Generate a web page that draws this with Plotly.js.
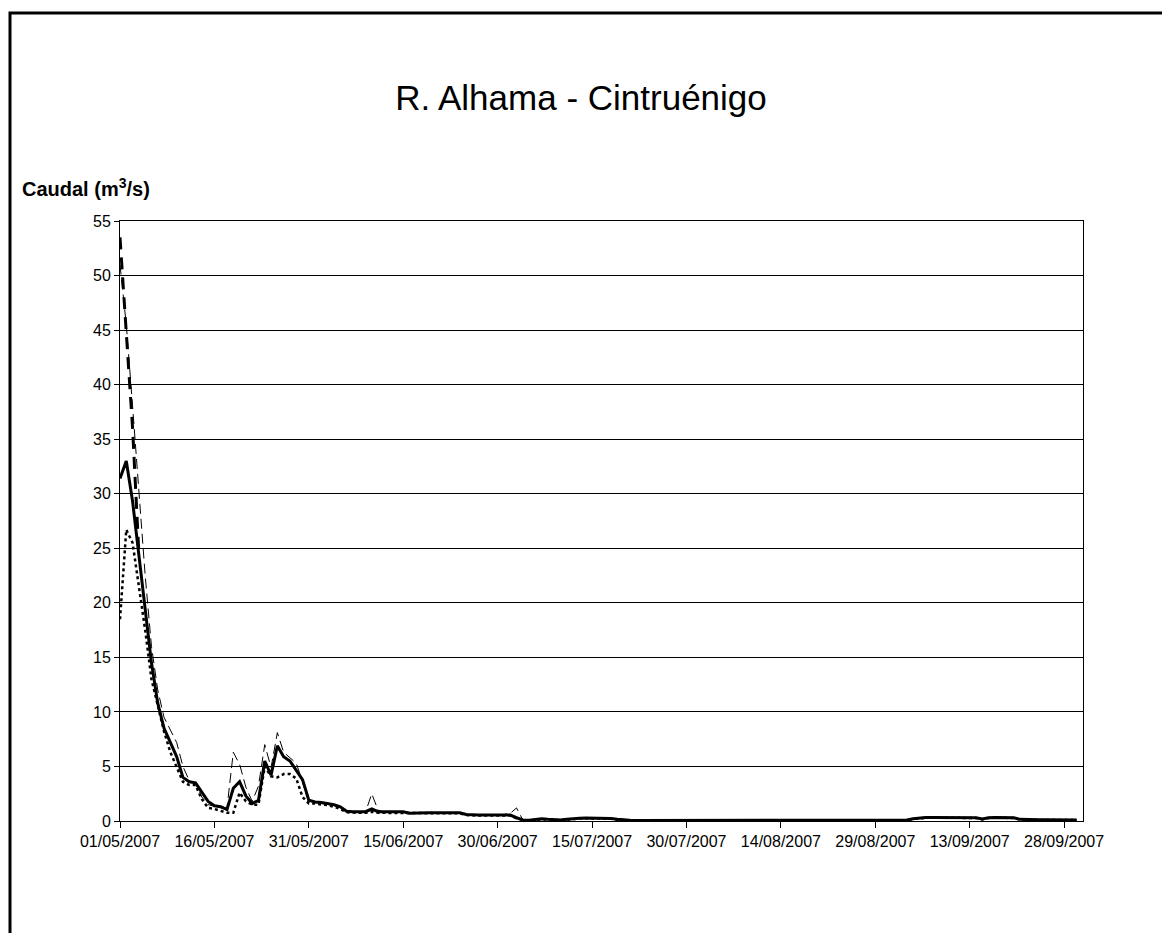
<!DOCTYPE html>
<html>
<head>
<meta charset="utf-8">
<script src="https://cdn.plot.ly/plotly-3.0.1.min.js"></script>
<style>
html,body{margin:0;padding:0;background:#fff;}
#chart{width:1162px;height:933px;}
</style>
</head>
<body>
<div id="chart"></div>
<script>
// ---- data (daily values from 01/05/2007) ----
const startDate = '2007-05-01';

const solidSeries = [
31.4,33.0,29.3,24.5,19.6,14.5,10.8,8.5,7.2,5.9,
4.0,3.6,3.5,2.7,1.8,1.4,1.3,1.05,3.0,3.6,
2.3,1.6,1.9,5.5,4.2,6.9,5.9,5.5,4.6,3.8,
1.9,1.75,1.7,1.6,1.5,1.3,0.9,0.85,0.85,0.85,
1.1,0.85,0.85,0.85,0.85,0.85,0.72,0.75,0.75,0.75,
0.75,0.75,0.75,0.75,0.75,0.6,0.55,0.55,0.55,0.55,
0.55,0.55,0.55,0.3,0.1,0.08,0.12,0.2,0.15,0.1,
0.1,0.15,0.22,0.25,0.28,0.28,0.28,0.25,0.22,0.15,
0.08,0.06,0.05,0.05,0.05,0.05,0.05,0.05,0.05,0.05,
0.05,0.05,0.05,0.05,0.05,0.05,0.05,0.05,0.05,0.05,
0.05,0.05,0.05,0.05,0.05,0.05,0.05,0.05,0.05,0.05,
0.05,0.05,0.05,0.05,0.05,0.05,0.05,0.05,0.05,0.05,
0.05,0.05,0.05,0.05,0.06,0.1,0.2,0.28,0.32,0.32,
0.32,0.32,0.32,0.32,0.32,0.32,0.3,0.18,0.3,0.33,
0.33,0.33,0.3,0.15,0.12,0.12,0.12,0.12,0.12,0.12,
0.12,0.12,0.1
];

const dashedSeries = [
51,45.5,38,30.5,22.5,16,12,9.5,8.3,7.2,
5.0,3.7,3.5,2.2,1.5,1.35,1.3,1.2,6.3,5.2,
3.1,1.8,3.2,7.0,4.9,8.1,6.3,5.8,5.3,3.6,
1.7,1.7,1.6,1.5,1.4,1.2,0.85,0.8,0.8,0.8,
2.5,1.0,0.8,0.8,0.8,0.8,0.72,0.72,0.72,0.72,
0.72,0.72,0.72,0.72,0.72,0.58,0.55,0.55,0.55,0.55,
0.55,0.6,0.7,1.2,0.1,0.08,0.12,0.22,0.15,0.1,
0.1,0.15,0.25,0.28,0.3,0.3,0.3,0.28,0.25,0.15,
0.08,0.06,0.05,0.05,0.05,0.05,0.05,0.05,0.05,0.05,
0.05,0.05,0.05,0.05,0.05,0.05,0.05,0.05,0.05,0.05,
0.05,0.05,0.05,0.05,0.05,0.05,0.05,0.05,0.05,0.05,
0.05,0.05,0.05,0.05,0.05,0.05,0.05,0.05,0.05,0.05,
0.05,0.05,0.05,0.05,0.06,0.1,0.22,0.3,0.34,0.34,
0.34,0.34,0.34,0.34,0.34,0.34,0.32,0.18,0.32,0.35,
0.35,0.35,0.32,0.15,0.12,0.12,0.12,0.12,0.12,0.12,
0.12,0.12,0.1
];

const dottedSeries = [
18.5,26.7,25.5,21.5,17.5,13.0,10.5,8.2,6.3,5.0,
3.6,3.3,3.3,2.0,1.2,1.1,0.9,0.75,0.75,2.6,
1.8,1.5,1.5,5.0,4.1,4.0,4.3,4.3,3.9,2.2,
1.6,1.6,1.5,1.45,1.3,1.1,0.8,0.75,0.75,0.75,
0.85,0.75,0.75,0.75,0.75,0.75,0.7,0.7,0.7,0.7,
0.7,0.7,0.7,0.7,0.7,0.55,0.5,0.5,0.5,0.5,
0.5,0.5,0.5,0.25,0.08,0.06,0.1,0.15,0.12,0.08,
0.08,0.12,0.2,0.22,0.25,0.25,0.25,0.22,0.2,0.12,
0.06,0.05,0.04,0.04,0.04,0.04,0.04,0.04,0.04,0.04,
0.04,0.04,0.04,0.04,0.04,0.04,0.04,0.04,0.04,0.04,
0.04,0.04,0.04,0.04,0.04,0.04,0.04,0.04,0.04,0.04,
0.04,0.04,0.04,0.04,0.04,0.04,0.04,0.04,0.04,0.04,
0.04,0.04,0.04,0.04,0.05,0.08,0.18,0.26,0.3,0.3,
0.3,0.3,0.3,0.3,0.3,0.3,0.28,0.15,0.28,0.3,
0.3,0.3,0.28,0.13,0.1,0.1,0.1,0.1,0.1,0.1,
0.1,0.1,0.08
];

const thickDashedSeries = [53.5,45,36,24.5];

const tickDates = ['2007-05-01','2007-05-16','2007-05-31','2007-06-15','2007-06-30','2007-07-15','2007-07-30','2007-08-14','2007-08-29','2007-09-13','2007-09-28'];
const tickLabels = ['01/05/2007','16/05/2007','31/05/2007','15/06/2007','30/06/2007','15/07/2007','30/07/2007','14/08/2007','29/08/2007','13/09/2007','28/09/2007'];
const yTicks = [0,5,10,15,20,25,30,35,40,45,50,55];

// date axis built from the start date, one value per day
function dayList(n){
  const out=[]; const t0=Date.parse(startDate+'T00:00:00Z');
  for(let i=0;i<n;i++){ out.push(new Date(t0+i*86400000).toISOString().slice(0,10)); }
  return out;
}

const traces = [
  {x: dayList(dashedSeries.length), y: dashedSeries, mode:'lines', line:{color:'#000', width:1, dash:'10px,5px'}, hoverinfo:'skip'},
  {x: dayList(dottedSeries.length), y: dottedSeries, mode:'lines', line:{color:'#000', width:2.5, dash:'dot'}, hoverinfo:'skip'},
  {x: dayList(solidSeries.length), y: solidSeries, mode:'lines', line:{color:'#000', width:3}, hoverinfo:'skip'},
  {x: dayList(thickDashedSeries.length), y: thickDashedSeries, mode:'lines', line:{color:'#000', width:3, dash:'12px,8px'}, hoverinfo:'skip'}
];

const FONT = 'Arial, "Liberation Sans", sans-serif';

const layout = {
  width:1162, height:933,
  margin:{l:120, r:79, t:221, b:112, pad:0},
  paper_bgcolor:'#fff', plot_bgcolor:'#fff',
  showlegend:false,
  font:{family:FONT, color:'#000', size:16},
  title:{text:'R. Alhama - Cintruénigo', font:{family:FONT, size:35, color:'#000'}, xref:'container', x:0.5, xanchor:'center', yref:'container', y:1-98/933, yanchor:'middle'},
  xaxis:{
    type:'date', range:['2007-05-01','2007-10-01'],
    tickmode:'array', tickvals:tickDates, ticktext:tickLabels,
    ticks:'outside', ticklen:6, tickcolor:'#000', tickwidth:1,
    showline:true, linecolor:'#000', linewidth:1, mirror:true,
    showgrid:false, zeroline:false,
    tickfont:{family:FONT, size:16, color:'#000'}
  },
  yaxis:{
    range:[0,55], tickmode:'array', tickvals:yTicks,
    ticks:'outside', ticklen:5, tickcolor:'#000', tickwidth:1,
    showline:true, linecolor:'#000', linewidth:1, mirror:true,
    showgrid:true, gridcolor:'#000', gridwidth:1, zeroline:false,
    tickfont:{family:FONT, size:16, color:'#000'}
  },
  annotations:[{
    text:'<b>Caudal (m<sup>3</sup>/s)</b>', xref:'paper', yref:'paper',
    x:(20-120)/963, y:(821-187)/600, xanchor:'left', yanchor:'middle',
    showarrow:false, font:{family:FONT, size:20, color:'#000'}
  }],
  shapes:[{
    type:'rect', xref:'paper', yref:'paper',
    x0:(10-120)/963, x1:1.3, y0:-0.4, y1:(821-13)/600,
    line:{color:'#000', width:3}, fillcolor:'rgba(0,0,0,0)', layer:'below'
  }]
};

Plotly.newPlot('chart', traces, layout, {staticPlot:true, displayModeBar:false});
</script>
</body>
</html>
